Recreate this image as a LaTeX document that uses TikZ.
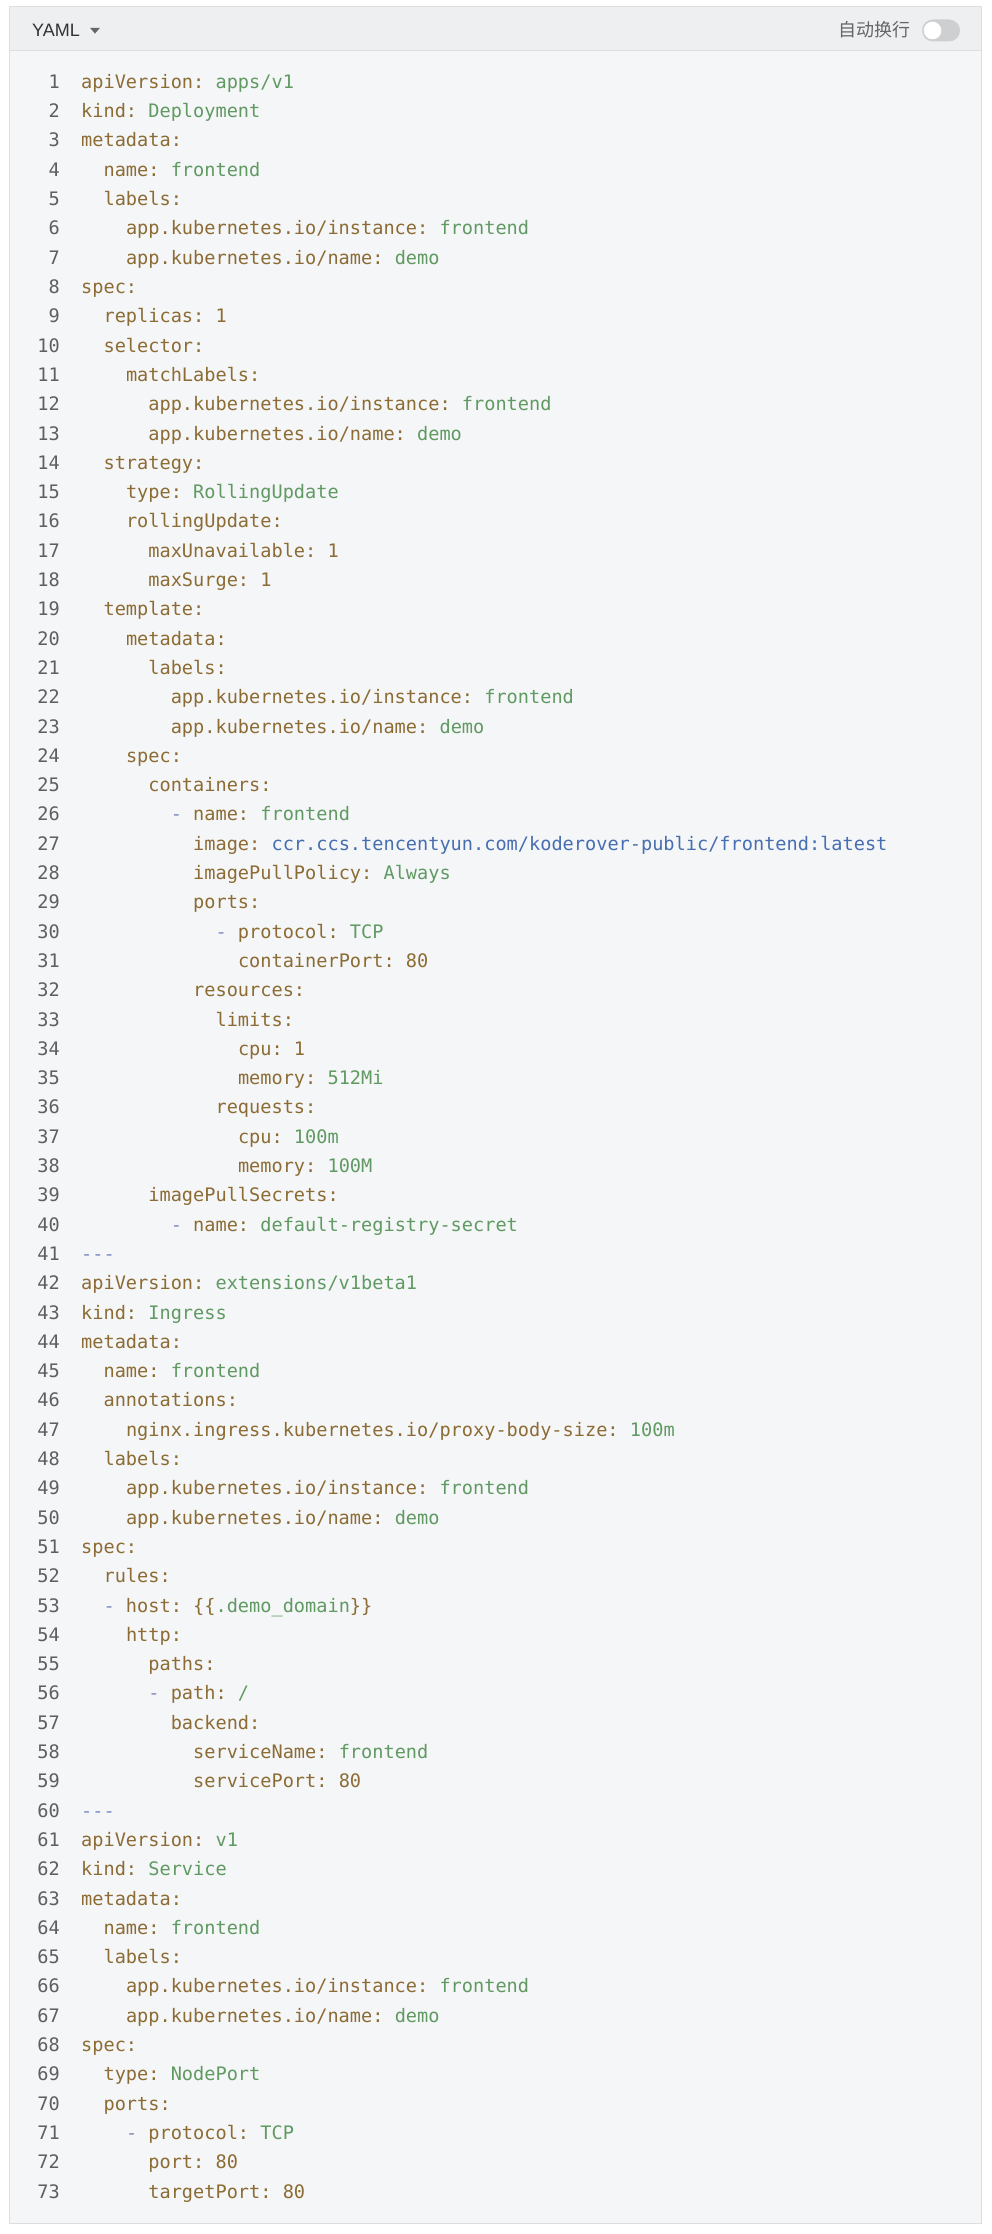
\documentclass[tikz,border=0pt]{standalone}
\usepackage{fontspec}
\setmainfont{Liberation Sans}
\setmonofont{DejaVu Sans Mono}
\newfontfamily\cjkfont{Noto Sans CJK SC}
\definecolor{ykey}{RGB}{140,108,52}
\definecolor{yval}{RGB}{96,154,98}
\definecolor{yurl}{RGB}{70,110,176}
\definecolor{ydash}{RGB}{128,140,192}
\definecolor{ynum}{RGB}{95,95,95}
\definecolor{bodybg}{RGB}{245,246,248}
\definecolor{headbg}{RGB}{238,239,241}
\definecolor{frameline}{RGB}{220,222,226}
\definecolor{togglegray}{RGB}{206,207,209}
\definecolor{headtext}{RGB}{51,51,51}
\definecolor{wraptext}{RGB}{102,102,102}
\newcommand\K[1]{\textcolor{ykey}{#1}}
\newcommand\V[1]{\textcolor{yval}{#1}}
\newcommand\U[1]{\textcolor{yurl}{#1}}
\newcommand\D[1]{\textcolor{ydash}{#1}}
\newcommand\codesize{\fontsize{18.6}{22}\selectfont}
\newcommand\yline[3]{%
  \pgfmathsetmacro\yy{88.4+(#1-1)*29.3}%
  \pgfmathsetmacro\xx{81+#2*11.2}%
  \node[numsty] (n#1) at (60,\yy) {#1};
  \node[codesty] (l#1) at (\xx,\yy) {#3};}
\begin{document}
\begin{tikzpicture}[x=1pt,y=-1pt,
  numsty/.style={anchor=base east, inner sep=0pt, font=\codesize\ttfamily, text=ynum},
  codesty/.style={anchor=base west, inner sep=0pt, font=\codesize\ttfamily, text=ykey}]
\useasboundingbox (0,0) rectangle (992,2234);
\fill[white] (0,0) rectangle (992,2234);
% frame
\fill[bodybg] (9.5,51) rectangle (981.5,2223);
\fill[headbg] (9.5,7) rectangle (981.5,51);
\draw[frameline, line width=1pt] (9.5,51) -- (981.5,51);
\draw[frameline, line width=1pt] (9.5,7) rectangle (981.5,2223);
% header
\node[anchor=base west, inner sep=0pt, font=\fontsize{18}{20}\selectfont, text=headtext] (title) at (32,36.5) {YAML};
\fill[gray!80!black] (90,27.8) -- (100,27.8) -- (95,33.6) -- cycle;
\node[anchor=base east, inner sep=0pt, font=\cjkfont\fontsize{18}{20}\selectfont, text=wraptext] (wrap) at (911,36.5) {自动换行};
\fill[togglegray, rounded corners=11pt] (922,19.5) rectangle (960,41.5);
\fill[white] (932.5,30.5) circle (8.8);
% code
\yline{1}{0}{\K{apiVersion:} \V{apps/v1}}
\yline{2}{0}{\K{kind:} \V{Deployment}}
\yline{3}{0}{\K{metadata:}}
\yline{4}{2}{\K{name:} \V{frontend}}
\yline{5}{2}{\K{labels:}}
\yline{6}{4}{\K{app.kubernetes.io/instance:} \V{frontend}}
\yline{7}{4}{\K{app.kubernetes.io/name:} \V{demo}}
\yline{8}{0}{\K{spec:}}
\yline{9}{2}{\K{replicas: 1}}
\yline{10}{2}{\K{selector:}}
\yline{11}{4}{\K{matchLabels:}}
\yline{12}{6}{\K{app.kubernetes.io/instance:} \V{frontend}}
\yline{13}{6}{\K{app.kubernetes.io/name:} \V{demo}}
\yline{14}{2}{\K{strategy:}}
\yline{15}{4}{\K{type:} \V{RollingUpdate}}
\yline{16}{4}{\K{rollingUpdate:}}
\yline{17}{6}{\K{maxUnavailable: 1}}
\yline{18}{6}{\K{maxSurge: 1}}
\yline{19}{2}{\K{template:}}
\yline{20}{4}{\K{metadata:}}
\yline{21}{6}{\K{labels:}}
\yline{22}{8}{\K{app.kubernetes.io/instance:} \V{frontend}}
\yline{23}{8}{\K{app.kubernetes.io/name:} \V{demo}}
\yline{24}{4}{\K{spec:}}
\yline{25}{6}{\K{containers:}}
\yline{26}{8}{\D{-} \K{name:} \V{frontend}}
\yline{27}{10}{\K{image:} \U{ccr.ccs.tencentyun.com/koderover-public/frontend:latest}}
\yline{28}{10}{\K{imagePullPolicy:} \V{Always}}
\yline{29}{10}{\K{ports:}}
\yline{30}{12}{\D{-} \K{protocol:} \V{TCP}}
\yline{31}{14}{\K{containerPort: 80}}
\yline{32}{10}{\K{resources:}}
\yline{33}{12}{\K{limits:}}
\yline{34}{14}{\K{cpu: 1}}
\yline{35}{14}{\K{memory:} \V{512Mi}}
\yline{36}{12}{\K{requests:}}
\yline{37}{14}{\K{cpu:} \V{100m}}
\yline{38}{14}{\K{memory:} \V{100M}}
\yline{39}{6}{\K{imagePullSecrets:}}
\yline{40}{8}{\D{-} \K{name:} \V{default-registry-secret}}
\yline{41}{0}{\D{-{}-{}-}}
\yline{42}{0}{\K{apiVersion:} \V{extensions/v1beta1}}
\yline{43}{0}{\K{kind:} \V{Ingress}}
\yline{44}{0}{\K{metadata:}}
\yline{45}{2}{\K{name:} \V{frontend}}
\yline{46}{2}{\K{annotations:}}
\yline{47}{4}{\K{nginx.ingress.kubernetes.io/proxy-body-size:} \V{100m}}
\yline{48}{2}{\K{labels:}}
\yline{49}{4}{\K{app.kubernetes.io/instance:} \V{frontend}}
\yline{50}{4}{\K{app.kubernetes.io/name:} \V{demo}}
\yline{51}{0}{\K{spec:}}
\yline{52}{2}{\K{rules:}}
\yline{53}{2}{\D{-} \K{host:} \K{\{\{}\V{.demo\_domain}\K{\}\}}}
\yline{54}{4}{\K{http:}}
\yline{55}{6}{\K{paths:}}
\yline{56}{6}{\D{-} \K{path:} \V{/}}
\yline{57}{8}{\K{backend:}}
\yline{58}{10}{\K{serviceName:} \V{frontend}}
\yline{59}{10}{\K{servicePort: 80}}
\yline{60}{0}{\D{-{}-{}-}}
\yline{61}{0}{\K{apiVersion:} \V{v1}}
\yline{62}{0}{\K{kind:} \V{Service}}
\yline{63}{0}{\K{metadata:}}
\yline{64}{2}{\K{name:} \V{frontend}}
\yline{65}{2}{\K{labels:}}
\yline{66}{4}{\K{app.kubernetes.io/instance:} \V{frontend}}
\yline{67}{4}{\K{app.kubernetes.io/name:} \V{demo}}
\yline{68}{0}{\K{spec:}}
\yline{69}{2}{\K{type:} \V{NodePort}}
\yline{70}{2}{\K{ports:}}
\yline{71}{4}{\D{-} \K{protocol:} \V{TCP}}
\yline{72}{6}{\K{port: 80}}
\yline{73}{6}{\K{targetPort: 80}}
\end{tikzpicture}
\end{document}
